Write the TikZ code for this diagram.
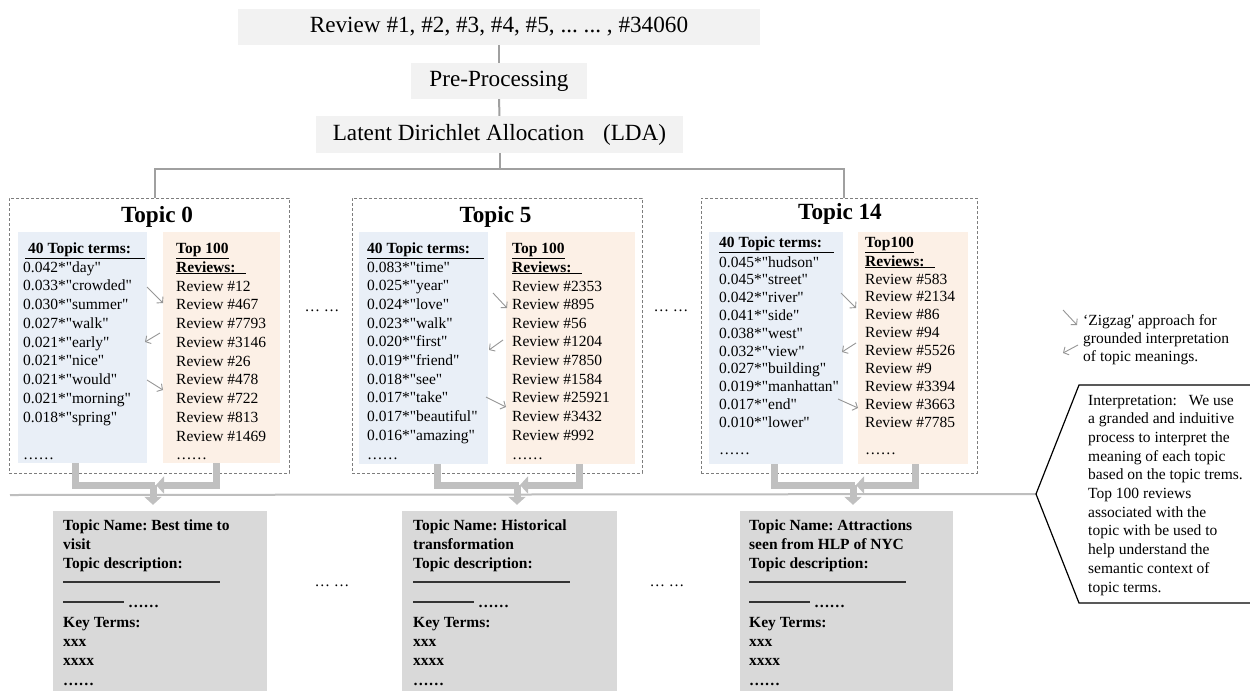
\documentclass[tikz,border=0pt]{standalone}
\usepackage{fontspec}
\setmainfont{Liberation Serif}[Ligatures=TeXOff]
\usetikzlibrary{arrows.meta,calc,fit}
\frenchspacing

\definecolor{topgray}{RGB}{242,242,242}
\definecolor{bluebg}{RGB}{233,239,247}
\definecolor{orangebg}{RGB}{252,240,230}
\definecolor{boxgray}{RGB}{217,217,217}
\definecolor{linegray}{RGB}{160,160,160}
\definecolor{longgray}{RGB}{190,190,190}
\definecolor{fatgray}{RGB}{192,192,192}
\definecolor{dashgray}{RGB}{125,125,125}
\definecolor{ziggray}{RGB}{150,150,150}

\begin{document}
\begin{tikzpicture}[x=1pt,y=-1pt,
  topbox/.style={fill=topgray, inner sep=0, font=\fontsize{23.2}{27}\selectfont},
  conn/.style={draw=linegray, line width=2},
  tbox/.style={draw=dashgray, dash pattern=on 3pt off 2pt, line width=0.9, inner sep=0},
  panel/.style={fill=#1, inner sep=0},
  gbox/.style={fill=boxgray, inner sep=0},
  txt/.style={inner sep=0, anchor=base west, font=\fontsize{15.5}{18.7}\selectfont},
  btxt/.style={txt, font=\fontsize{15.5}{18.7}\selectfont\bfseries},
  ttl/.style={inner sep=0, anchor=base, font=\fontsize{23.2}{27}\selectfont\bfseries},
  zig/.style={draw=ziggray, line width=0.9, -{Straight Barb[length=4pt,width=9pt]}},
  fat/.style={draw=fatgray, line width=7},
  fattip/.style={fat, -{Triangle[length=8pt,width=17pt]}},
  rulel/.style={draw=black!80, line width=1.3},
]
\fill[white] (0,0) rectangle (1250,691);
\useasboundingbox (0,0) rectangle (1250,691);

% ---------- pipeline ----------
\node[topbox, minimum width=522, minimum height=36] (reviews) at (499,27)
  {Review \#1, \#2, \#3, \#4, \#5, ... ... , \#34060};
\node[topbox, minimum width=176, minimum height=36] (pre) at (499,81) {Pre-Processing};
\node[topbox, minimum width=367, minimum height=37] (lda) at (499.5,134.5)
  {Latent Dirichlet Allocation\hspace{19pt}(LDA)\hspace{18pt}};

% ---------- topic frames ----------
\node[tbox, fit={(9,198) (289,473)}] (t0) {};
\node[tbox, fit={(352,198) (642,473)}] (t5) {};
\node[tbox, fit={(701,198) (977,473)}] (t14) {};

\coordinate (hub) at (499.5,169);
\draw[conn] (reviews) -- (pre);
\draw[conn] (pre) -- (lda);
\draw[conn] (lda) -- (hub);
\draw[conn] ([xshift=6]t0.north) |- (hub) -| ([xshift=5]t14.north);

\node[ttl] (t0title) at (157,222) {Topic 0};
\node[ttl] (t5title) at (495.5,222) {Topic 5};
\node[ttl] (t14title) at (840,219) {Topic 14};

% ---------- term / review panels ----------
\node[panel=bluebg, fit={(18,232) (147,463)}] (blue0) {};
\node[panel=orangebg, fit={(163,232) (280,463)}] (orange0) {};
\node[panel=bluebg, fit={(359,232) (488,464)}] (blue5) {};
\node[panel=orangebg, fit={(506,232) (635,464)}] (orange5) {};
\node[panel=bluebg, fit={(709,232) (843,464)}] (blue14) {};
\node[panel=orangebg, fit={(858,232) (968,464)}] (orange14) {};

% Topic 0
\node[btxt] (h0a) at (25,253) {\underline{\hspace{3pt}40 Topic terms:\hspace{14pt}}};
\foreach \s [count=\i from 0] in {0.042*"day",0.033*"crowded",0.030*"summer",0.027*"walk",0.021*"early",0.021*"nice",0.021*"would",0.021*"morning",0.018*"spring"}
  \node[txt] (w0-\i) at (23,272+\i*18.75) {\s};
\node[txt] (w0-end) at (23,459) {……};
\node[btxt] (h0b) at (176,253) {\underline{Top 100}};
\node[btxt] (h0c) at (176,272) {\underline{Reviews:\hspace{10pt}}};
\foreach \s [count=\i from 0] in {12,467,7793,3146,26,478,722,813,1469}
  \node[txt] (r0-\i) at (176,291+\i*18.75) {Review \#\s};
\node[txt] (r0-end) at (176,459) {……};

% Topic 5
\node[btxt] (h5a) at (367,253) {\underline{40 Topic terms:\hspace{14pt}}};
\foreach \s [count=\i from 0] in {0.083*"time",0.025*"year",0.024*"love",0.023*"walk",0.020*"first",0.019*"friend",0.018*"see",0.017*"take",0.017*"beautiful",0.016*"amazing"}
  \node[txt] (w5-\i) at (367,272+\i*18.7) {\s};
\node[txt] (w5-end) at (367,459) {……};
\node[btxt] (h5b) at (512,253) {\underline{Top 100}};
\node[btxt] (h5c) at (512,272) {\underline{Reviews:\hspace{10pt}}};
\foreach \s [count=\i from 0] in {2353,895,56,1204,7850,1584,25921,3432,992}
  \node[txt] (r5-\i) at (512,291+\i*18.65) {Review \#\s};
\node[txt] (r5-end) at (512,459) {……};

% Topic 14
\node[btxt] (h14a) at (719,247) {\underline{40 Topic terms:\hspace{12pt}}};
\foreach \s [count=\i from 0] in {0.045*"hudson",0.045*"street",0.042*"river",0.041*"side",0.038*"west",0.032*"view",0.027*"building",0.019*"manhattan",0.017*"end",0.010*"lower"}
  \node[txt] (w14-\i) at (719,267+\i*17.8) {\s};
\node[txt] (w14-end) at (719,454) {……};
\node[btxt] (h14b) at (865,247) {\underline{Top100}};
\node[btxt] (h14c) at (865,266) {\underline{Reviews:\hspace{10pt}}};
\foreach \s [count=\i from 0] in {583,2134,86,94,5526,9,3394,3663,7785}
  \node[txt] (r14-\i) at (865,284+\i*17.9) {Review \#\s};
\node[txt] (r14-end) at (865,454) {……};

% zigzag reading arrows
\draw[zig] (147,287) -- (163,303);
\draw[zig] (160,333) -- (145,342);
\draw[zig] (147,380) -- (163,390);
\draw[zig] (493,293) -- (507,308);
\draw[zig] (503,340) -- (489,350);
\draw[zig] (486,397) -- (506,407);
\draw[zig] (841,293) -- (856,308);
\draw[zig] (856,343) -- (842,352);
\draw[zig] (838,399) -- (858,408);

% gaps between topics
\node[txt, anchor=base] (gapA) at (322,311) {…\ …};
\node[txt, anchor=base] (gapB) at (671,311) {…\ …};

% ---------- separator and interpretation note ----------
\coordinate (hexL) at (1036,494);
\draw[draw=longgray, line width=2] (10,495) -- (hexL);
\draw[line width=1.2] (1250,385) -- (1079,385) -- (hexL) -- (1079,603) -- (1250,603);
\foreach \s [count=\i from 0] in {Interpretation:\hspace{12pt}We use,a granded and induitive,process to interpret the,meaning of each topic,based on the topic trems.,Top 100 reviews,associated with the,topic with be used to,help understand the,semantic context of,topic terms.}
  \node[txt] (note-\i) at (1088,405+\i*18.7) {\s};

% legend
\draw[zig] (1063,310) -- (1077,325);
\draw[zig] (1078,345) -- (1063,353);
\node[txt] (leg-0) at (1083,325) {‘Zigzag' approach for};
\node[txt] (leg-1) at (1083,343) {grounded interpretation};
\node[txt] (leg-2) at (1083,361) {of topic meanings.};

% ---------- topic summaries ----------
\node[gbox, fit={(53,511) (267,691)}] (b0) {};
\node[gbox, fit={(402,511) (617,691)}] (b5) {};
\node[gbox, fit={(740,511) (953,691)}] (b14) {};

\foreach \bx/\x/\la/\lb in {b0/63/{Topic Name: Best time to}/{visit},
                            b5/413/{Topic Name: Historical}/{transformation},
                            b14/749/{Topic Name: Attractions}/{seen from HLP of NYC}} {
  \node[btxt] (\bx-l1) at (\x,530) {\la};
  \node[btxt] (\bx-l2) at (\x,549.4) {\lb};
  \node[btxt] (\bx-l3) at (\x,568.8) {Topic description:};
  \draw[rulel] (\x,582) -- ++(157,0);
  \draw[rulel] (\x,602) -- ++(61,0);
  \node[btxt] (\bx-dots) at (\x+65,607.6) {……};
  \node[btxt] (\bx-l6) at (\x,627) {Key Terms:};
  \node[btxt] (\bx-l7) at (\x,646.4) {xxx};
  \node[btxt] (\bx-l8) at (\x,665.8) {xxxx};
  \node[btxt] (\bx-l9) at (\x,685.2) {……};
}

\node[txt, anchor=base] (gapC) at (332,586) {…\ …};
\node[txt, anchor=base] (gapD) at (667,586) {…\ …};

% ---------- merge arrows from panels to summaries ----------
\coordinate (m0) at (153,485);
\coordinate (m5) at (517,485);
\coordinate (m14) at (853,485);
\draw[fat] ([xshift=-7.5]blue0.south) |- ([xshift=2]m0);
\draw[fattip] ([xshift=-5.5]orange0.south) |- ([xshift=3]m0);
\draw[fattip, shorten >=6] (m0) -- (m0 |- b0.north);
\draw[fat] ([xshift=13.5]blue5.south) |- ([xshift=2]m5);
\draw[fattip] ([xshift=8.5]orange5.south) |- ([xshift=3]m5);
\draw[fattip, shorten >=6] (m5) -- (m5 |- b5.north);
\draw[fat] ([xshift=-2]blue14.south) |- ([xshift=2]m14);
\draw[fattip] ([xshift=2]orange14.south) |- ([xshift=3]m14);
\draw[fattip, shorten >=6] (m14) -- (m14 |- b14.north);
\end{tikzpicture}
\end{document}
